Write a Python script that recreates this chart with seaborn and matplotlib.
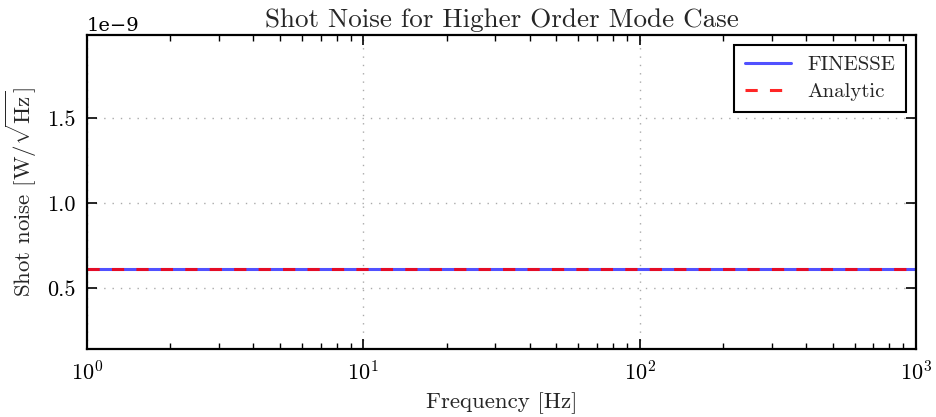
import matplotlib
matplotlib.use("Agg")
import matplotlib.pyplot as plt
import seaborn as sns
import pandas as pd
from matplotlib.ticker import LogLocator, NullFormatter

freq_hz = [1, 10, 100, 1000]
finesse_noise = [6.12e-10, 6.12e-10, 6.12e-10, 6.12e-10]
analytic_noise = [6.12e-10, 6.12e-10, 6.12e-10, 6.12e-10]
series_names = ["FINESSE", "Analytic"]
title = "Shot Noise for Higher Order Mode Case"
xlabel = "Frequency [Hz]"
ylabel = r"Shot noise [W/$\sqrt{\mathrm{Hz}}$]"

sns.set_style("ticks")
plt.rcParams["font.family"] = ["cmr10", "DejaVu Serif"]
plt.rcParams["mathtext.fontset"] = "cm"
plt.rcParams["axes.formatter.use_mathtext"] = False
plt.rcParams["axes.unicode_minus"] = True

df = pd.DataFrame({
    "freq": freq_hz * 2,
    "noise": finesse_noise + analytic_noise,
    "series": [series_names[0]] * len(freq_hz) + [series_names[1]] * len(freq_hz),
})

fig = plt.figure(figsize=(9.36, 4.17), dpi=100)
ax = fig.add_axes([87 / 936, 1 - 349 / 417, (916 - 87) / 936, (349 - 35) / 417])

sns.lineplot(data=df[df.series == series_names[0]], x="freq", y="noise", ax=ax,
             color="#3333ff", linewidth=2.2, label=series_names[0], alpha=0.85)
sns.lineplot(data=df[df.series == series_names[1]], x="freq", y="noise", ax=ax,
             color="#ff0000", linewidth=2.2, label=series_names[1], dashes=False,
             linestyle=(0, (4, 4)), alpha=0.85)

ax.set_xscale("log")
ax.set_xlim(1, 1000)
ax.set_ylim(0.141e-9, 1.988e-9)
ax.set_yticks([0.5e-9, 1.0e-9, 1.5e-9])
ax.xaxis.set_minor_locator(LogLocator(base=10, subs=range(2, 10)))
ax.xaxis.set_minor_formatter(NullFormatter())

ax.grid(True, which="major", linestyle=(0, (1, 5)), color="#aaaaaa", linewidth=1.0)
for s in ax.spines.values():
    s.set_linewidth(1.6)
    s.set_color("black")
ax.tick_params(which="both", direction="in", top=True, right=True, colors="black",
               labelsize=16, pad=8)
ax.tick_params(which="major", length=7, width=1.2)
ax.tick_params(which="minor", length=4, width=1.0)
ax.yaxis.get_offset_text().set_fontsize(14)
ax.yaxis.get_offset_text().set_family(["DejaVu Serif"])

ax.set_title(title, fontsize=19.5, pad=6)
ax.set_xlabel(xlabel, fontsize=16.5, labelpad=6)
ax.set_ylabel(ylabel, fontsize=16.5, labelpad=6)

leg = ax.legend(loc="upper right", fontsize=15, frameon=True, fancybox=False,
                edgecolor="black", handlelength=2.2, borderpad=0.5, labelspacing=0.4)
leg.get_frame().set_linewidth(1.5)
leg.get_frame().set_alpha(1)

fig.savefig("out.png", dpi=100)
